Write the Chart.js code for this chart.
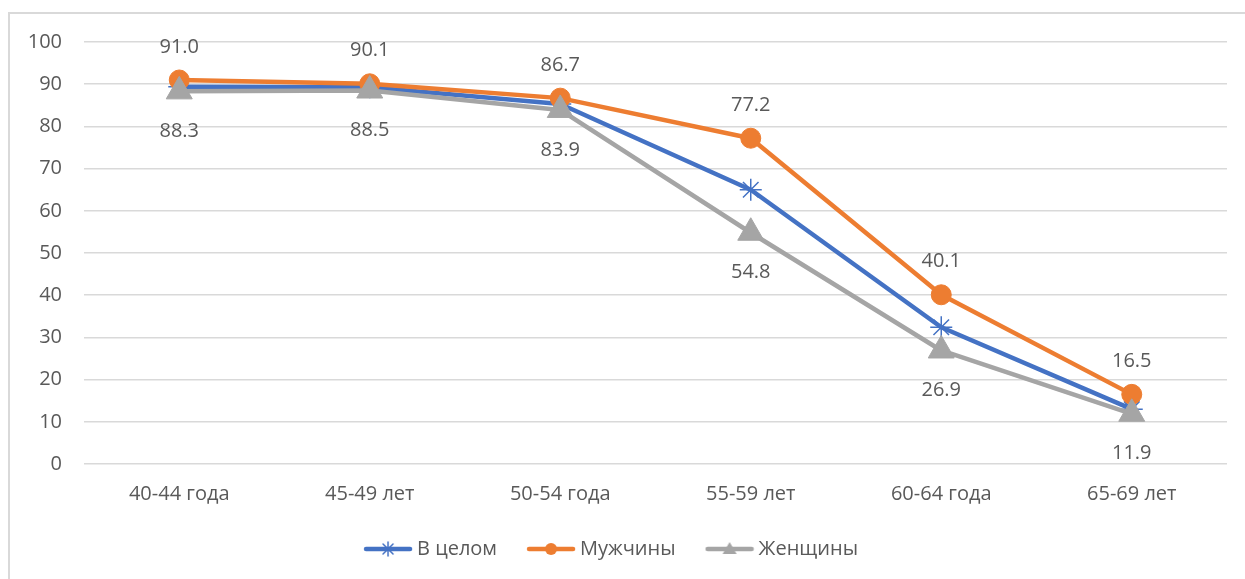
<!DOCTYPE html>
<html>
<head>
<meta charset="utf-8">
<script src="https://cdn.jsdelivr.net/npm/chart.js@4/dist/chart.umd.min.js"></script>
<style>
  body { margin: 0; background: #fff; overflow: hidden; }
  #frame { position: absolute; left: 8px; top: 12px; width: 1400px; height: 800px; border: 2px solid #D9D9D9; }
  #chart { position: absolute; left: 0; top: 0; }
</style>
</head>
<body>
<div id="frame"></div>
<canvas id="chart" width="1245" height="579"></canvas>
<script>
const categories = ['40-44 года', '45-49 лет', '50-54 года', '55-59 лет', '60-64 года', '65-69 лет'];
const overall = [89.4, 89.3, 85.3, 65.0, 32.4, 13.0];
const men = [91.0, 90.1, 86.7, 77.2, 40.1, 16.5];
const women = [88.3, 88.5, 83.9, 54.8, 26.9, 11.9];
const yTicks = [0, 10, 20, 30, 40, 50, 60, 70, 80, 90, 100];

const TEXT = '#595959';
const FONT = '"Open Sans", sans-serif';

// little line+marker pictures for the legend
function legendIcon(color, marker) {
    const c = document.createElement('canvas');
    c.width = 50; c.height = 20;
    const g = c.getContext('2d');
    g.strokeStyle = color; g.fillStyle = color;
    g.lineWidth = 4.5; g.lineCap = 'round';
    g.beginPath(); g.moveTo(3, 10); g.lineTo(47, 10); g.stroke();
    if (marker === 'circle') {
        g.beginPath(); g.arc(25, 10, 6, 0, Math.PI * 2); g.fill();
    } else if (marker === 'triangle') {
        g.beginPath(); g.moveTo(25, 3); g.lineTo(32, 15); g.lineTo(18, 15); g.closePath(); g.fill();
    } else {
        g.lineWidth = 1.5;
        g.beginPath();
        g.moveTo(25, 3); g.lineTo(25, 17);
        g.moveTo(20, 5); g.lineTo(30, 15);
        g.moveTo(30, 5); g.lineTo(20, 15);
        g.stroke();
    }
    return c;
}

const icons = [legendIcon('#4472C4', 'star'), legendIcon('#ED7D31', 'circle'), legendIcon('#A5A5A5', 'triangle')];

const valueLabels = {
    id: 'valueLabels',
    afterDatasetsDraw(chart) {
        const ctx = chart.ctx;
        ctx.save();
        ctx.font = '20px ' + FONT;
        ctx.fillStyle = TEXT;
        ctx.textAlign = 'center';
        ctx.textBaseline = 'middle';
        chart.data.datasets.forEach((ds, i) => {
            if (!ds.labelPos) return;
            const meta = chart.getDatasetMeta(i);
            meta.data.forEach((pt, j) => {
                const dy = ds.labelPos === 'above' ? -33 : 40;
                ctx.fillText(ds.data[j].toFixed(1), pt.x, pt.y + dy);
            });
        });
        ctx.restore();
    }
};

new Chart(document.getElementById('chart'), {
    type: 'line',
    data: {
        labels: categories,
        datasets: [
            {
                label: 'В целом', data: overall, order: 2,
                borderColor: '#4472C4', backgroundColor: '#4472C4', borderWidth: 4.5,
                pointStyle: 'star', pointRadius: 11, pointBorderWidth: 1.5,
                pointBorderColor: '#4472C4'
            },
            {
                label: 'Мужчины', data: men, order: 1, labelPos: 'above',
                borderColor: '#ED7D31', backgroundColor: '#ED7D31', borderWidth: 4.5,
                pointStyle: 'circle', pointRadius: 10, pointBorderWidth: 1
            },
            {
                label: 'Женщины', data: women, order: 0, labelPos: 'below',
                borderColor: '#A5A5A5', backgroundColor: '#A5A5A5', borderWidth: 4.5,
                pointStyle: 'triangle', pointRadius: 15, pointBorderWidth: 1
            }
        ]
    },
    options: {
        responsive: false,
        devicePixelRatio: 1,
        animation: false,
        elements: { line: { tension: 0, borderJoinStyle: 'round', borderCapStyle: 'round' } },
        layout: { padding: { top: 42, right: 18, left: 0, bottom: 10 } },
        scales: {
            x: {
                offset: true,
                grid: { display: false, drawTicks: false },
                border: { display: false },
                ticks: { color: TEXT, font: { family: FONT, size: 20 }, padding: 18 },
                afterFit(scale) { scale.height = 40; }
            },
            y: {
                min: 0, max: 100,
                afterBuildTicks(scale) { scale.ticks = yTicks.map(v => ({ value: v })); },
                grid: { color: '#D9D9D9', lineWidth: 1.5, drawTicks: false },
                border: { display: false },
                ticks: { color: TEXT, font: { family: FONT, size: 20 }, padding: 22 },
                afterFit(scale) { scale.width = 84; }
            }
        },
        plugins: {
            tooltip: { enabled: false },
            legend: {
                position: 'bottom',
                labels: {
                    usePointStyle: true,
                    pointStyleWidth: 38,
                    boxHeight: 20,
                    padding: 35,
                    color: TEXT,
                    font: { family: FONT, size: 20 },
                    generateLabels(chart) {
                        return chart.data.datasets.map((ds, i) => ({
                            text: ds.label,
                            pointStyle: icons[i],
                            fontColor: TEXT,
                            fillStyle: 'transparent',
                            strokeStyle: 'transparent',
                            lineWidth: 0,
                            hidden: false,
                            datasetIndex: i
                        }));
                    }
                }
            }
        }
    },
    plugins: [valueLabels]
});
</script>
</body>
</html>
